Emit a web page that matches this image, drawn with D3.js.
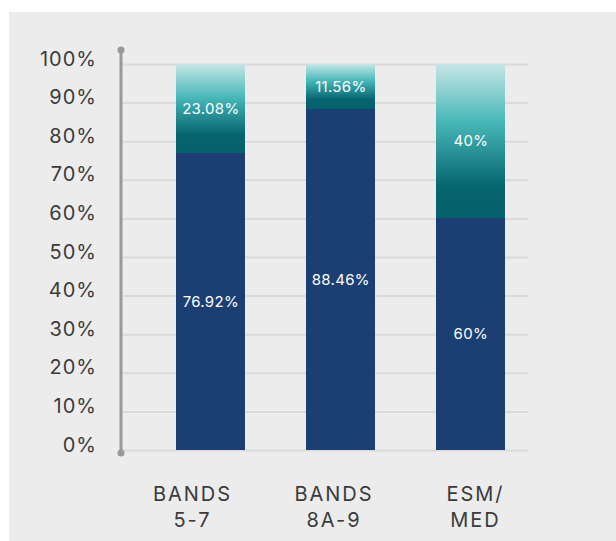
<!DOCTYPE html>
<html>
<head>
<meta charset="utf-8">
<script src="https://cdn.jsdelivr.net/npm/d3@7"></script>
<style>
  html, body { margin: 0; padding: 0; background: #ffffff; }
  #chart { width: 616px; height: 541px; }
  text { font-family: "Inter", "Noto Sans", sans-serif; }
  .tick-label { fill: #3b3b3b; font-size: 20px; letter-spacing: 1px; }
  .cat-label { fill: #3b3b3b; font-size: 20px; letter-spacing: 2px; }
  .value-label { fill: #ffffff; font-size: 15px; letter-spacing: 0.3px; }
</style>
</head>
<body>
<div id="chart"></div>
<script>
// Stacked 100% bars by staff band
(function() {
  const categories = ["BANDS 5-7", "BANDS 8A-9", "ESM/ MED"];
  const lowerValues = [76.92, 88.46, 60];
  const upperValues = [23.08, 11.56, 40];
  const lowerLabels = ["76.92%", "88.46%", "60%"];
  const upperLabels = ["23.08%", "11.56%", "40%"];
  const yTicks = [0, 10, 20, 30, 40, 50, 60, 70, 80, 90, 100];

  const rows = categories.map((c, i) => ({
    category: c, lower: lowerValues[i], upper: upperValues[i],
    lowerLabel: lowerLabels[i], upperLabel: upperLabels[i]
  }));

  const width = 616;
  const height = 541;

  const svg = d3.select("#chart")
    .append("svg")
    .attr("width", width)
    .attr("height", height);

  // grey panel
  svg.append("rect")
    .attr("x", 9)
    .attr("y", 12)
    .attr("width", width - 9)
    .attr("height", height - 12)
    .attr("fill", "#ececec");

  const defs = svg.append("defs");
  const grad = defs.append("linearGradient")
    .attr("id", "teal-grad")
    .attr("x1", 0).attr("y1", 0)
    .attr("x2", 0).attr("y2", 1);
  grad.append("stop").attr("offset", "0%").attr("stop-color", "#c6e6e6");
  grad.append("stop").attr("offset", "38%").attr("stop-color", "#46b7b7");
  grad.append("stop").attr("offset", "80%").attr("stop-color", "#05646f");
  grad.append("stop").attr("offset", "100%").attr("stop-color", "#05626d");

  const axisX = 121;
  const gridRight = 528;

  const yScale = d3.scaleLinear()
    .domain([0, 100])
    .range([450, 64]);

  const xScale = d3.scaleBand()
    .domain(categories)
    .range([115.3, 566.3])
    .paddingInner(0.469)
    .paddingOuter(0.469);

  // category labels sit on their own evenly spaced points
  const labelScale = d3.scalePoint()
    .domain(categories)
    .range([191.5, 474.5]);

  // gridlines
  const grid = svg.append("g")
    .attr("transform", `translate(${axisX},0)`)
    .call(d3.axisRight(yScale)
      .tickValues(yTicks)
      .tickSize(gridRight - axisX)
      .tickFormat(""));
  grid.select(".domain").remove();
  grid.selectAll(".tick line")
    .attr("stroke", "#dadada")
    .attr("stroke-width", 2);

  // y tick labels
  const yAxis = svg.append("g")
    .attr("transform", `translate(${axisX - 24},0)`)
    .call(d3.axisLeft(yScale)
      .tickValues(yTicks)
      .tickSize(0)
      .tickPadding(0)
      .tickFormat(d => d + "%"));
  yAxis.select(".domain").remove();
  yAxis.selectAll("text")
    .attr("class", "tick-label")
    .attr("dy", "0.05em")
    .attr("font-size", null)
    .attr("font-family", null)
    .attr("fill", null);

  // stacked bars
  const stack = d3.stack().keys(["lower", "upper"]);
  const series = stack(rows);
  const fills = { lower: "#1b3f73", upper: "url(#teal-grad)" };

  const layers = svg.selectAll(".layer")
    .data(series)
    .enter()
    .append("g")
    .attr("class", "layer")
    .attr("fill", s => fills[s.key]);

  layers.selectAll("rect")
    .data(s => s)
    .enter()
    .append("rect")
    .attr("shape-rendering", "crispEdges")
    .attr("x", d => xScale(d.data.category))
    .attr("y", d => yScale(Math.min(d[1], 100)))
    .attr("width", xScale.bandwidth())
    .attr("height", d => yScale(d[0]) - yScale(Math.min(d[1], 100)));

  layers.selectAll("text")
    .data(s => s.map(d => ({ d, key: s.key })))
    .enter()
    .append("text")
    .attr("class", "value-label")
    .attr("text-anchor", "middle")
    .attr("x", o => xScale(o.d.data.category) + xScale.bandwidth() / 2)
    .attr("y", o => yScale((o.d[0] + Math.min(o.d[1], 100)) / 2))
    .attr("dy", "0.35em")
    .text(o => o.key === "lower" ? o.d.data.lowerLabel : o.d.data.upperLabel);

  // vertical axis line with end dots
  svg.append("line")
    .attr("x1", axisX).attr("x2", axisX)
    .attr("y1", yScale(100) - 14).attr("y2", yScale(0) + 3)
    .attr("stroke", "#999999")
    .attr("stroke-width", 3);
  svg.selectAll(".axis-dot")
    .data([yScale(100) - 14, yScale(0) + 3])
    .enter()
    .append("circle")
    .attr("cx", axisX)
    .attr("cy", d => d)
    .attr("r", 3.5)
    .attr("fill", "#999999");

  // category labels (two lines)
  const catLabels = svg.selectAll(".cat-label")
    .data(categories)
    .enter()
    .append("text")
    .attr("class", "cat-label")
    .attr("text-anchor", "middle")
    .attr("x", d => labelScale(d) + 1)
    .attr("y", 501);
  catLabels.selectAll("tspan")
    .data(d => d.split(" "))
    .enter()
    .append("tspan")
    .attr("x", function() { return d3.select(this.parentNode).attr("x"); })
    .attr("dy", (d, i) => i === 0 ? 0 : 26)
    .text(d => d);
})();
</script>
</body>
</html>
